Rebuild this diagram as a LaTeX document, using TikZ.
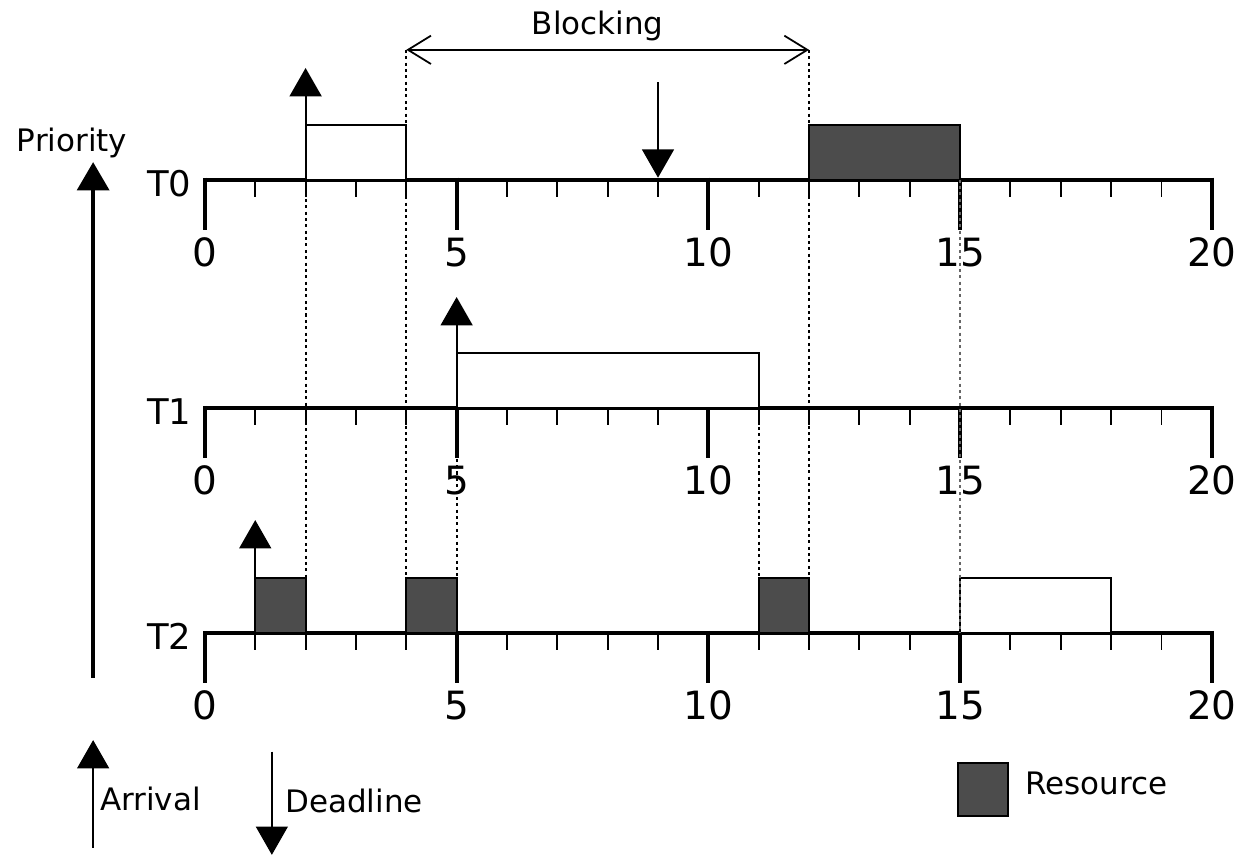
\documentclass[tikz,border=0pt]{standalone}
\usepackage{fontspec}
\setmainfont{DejaVu Sans}
\usetikzlibrary{arrows.meta}

\tikzset{
  axisline/.style={line width=2.5pt},
  bigtick/.style={line width=2.2pt},
  smalltick/.style={line width=1.1pt},
  jobbox/.style={draw, line width=1.1pt, fill=white},
  resbox/.style={draw, line width=1.1pt, fill=black!70},
  guide/.style={line width=1.2pt, dash pattern=on 1.7pt off 1.9pt},
  eventarrow/.style={line width=1.1pt, -{Triangle[width=18pt,length=16pt]}},
  ticklabel/.style={font=\fontsize{22}{26}\selectfont, inner sep=0pt, anchor=base},
  tasklabel/.style={font=\fontsize{20}{24}\selectfont, inner sep=0pt, anchor=base east},
  smalllabel/.style={font=\fontsize{17.5}{21}\selectfont, inner sep=0pt},
}

\begin{document}
\begin{tikzpicture}[line join=miter]
  \useasboundingbox (-4.07,-4.43) rectangle (20.54,12.57);

  % 1. Time axes of the three tasks
  \foreach \name/\y in {T0/9, T1/4.47, T2/0} {
    \draw[axisline] (0,\y) -- (20,\y);
    \foreach \t in {1,...,19}
      \draw[smalltick] (\t,\y) -- (\t,\y-0.34);
    \foreach \t in {0,5,...,20} {
      \draw[bigtick] (\t,\y+0.04) -- (\t,\y-1);
      \node[ticklabel] (n\name-\t) at (\t,\y-1.73) {\t};
    }
    \node[tasklabel] (\name) at (-0.26,\y-0.34) {\name};
  }

  % 2. Execution slots (white) and critical sections (grey)
  \draw[jobbox] (2,9) rectangle (4,10.08);
  \draw[resbox] (12,9) rectangle (15,10.08);
  \draw[jobbox] (5,4.47) rectangle (11,5.55);
  \draw[resbox] (1,0) rectangle (2,1.08);
  \draw[resbox] (4,0) rectangle (5,1.08);
  \draw[resbox] (11,0) rectangle (12,1.08);
  \draw[jobbox] (15,0) rectangle (18,1.08);

  % 3. Dotted guide lines between the axes
  \draw[guide] (2,9) -- (2,1.08);
  \draw[guide] (4,11.58) -- (4,0);
  \draw[guide] (5,4.47) -- (5,1.08);
  \draw[guide] (11,4.47) -- (11,1.08);
  \draw[guide] (12,11.58) -- (12,0);
  \draw[guide, black!60, line width=0.8pt] (15,9) -- (15,0);

  % 4. Arrivals and deadline
  \coordinate (arr0) at (2,9);    \coordinate (arr0 tip) at (2,11.22);
  \coordinate (arr1) at (5,4.47); \coordinate (arr1 tip) at (5,6.67);
  \coordinate (arr2) at (1,0);    \coordinate (arr2 tip) at (1,2.24);
  \coordinate (dl0) at (9,10.94); \coordinate (dl0 tip) at (9,9.04);
  \draw[eventarrow] (arr0) -- (arr0 tip);
  \draw[eventarrow] (arr1) -- (arr1 tip);
  \draw[eventarrow] (arr2) -- (arr2 tip);
  \draw[eventarrow] (dl0) -- (dl0 tip);

  % 5. Blocking interval
  \coordinate (blk start) at (4,11.58);
  \coordinate (blk end) at (12,11.58);
  \draw[line width=1pt, {Straight Barb[length=13pt,width=16pt]}-{Straight Barb[length=13pt,width=16pt]}] (blk start) -- (blk end);
  \node[smalllabel, anchor=base] (blocking) at (7.8,11.88) {Blocking};

  % 6. Priority axis
  \coordinate (prio low) at (-2.22,-0.89);
  \coordinate (prio high) at (-2.22,9.35);
  \draw[line width=2.3pt, -{Triangle[width=18pt,length=16pt]}] (prio low) -- (prio high);
  \node[smalllabel, anchor=base] (priority) at (-2.64,9.57) {Priority};

  % 7. Legend
  \coordinate (lg arr) at (-2.22,-4.27); \coordinate (lg arr tip) at (-2.22,-2.13);
  \coordinate (lg dl) at (1.33,-2.36);   \coordinate (lg dl tip) at (1.33,-4.41);
  \draw[eventarrow] (lg arr) -- (lg arr tip);
  \draw[eventarrow] (lg dl) -- (lg dl tip);
  \node[smalllabel, anchor=base west] (arrival) at (-2.09,-3.52) {Arrival};
  \node[smalllabel, anchor=base west] (deadline) at (1.59,-3.56) {Deadline};
  \draw[resbox] (14.96,-2.58) rectangle (15.95,-3.63);
  \node[smalllabel, anchor=base west] (resource) at (16.29,-3.22) {Resource};
\end{tikzpicture}
\end{document}
